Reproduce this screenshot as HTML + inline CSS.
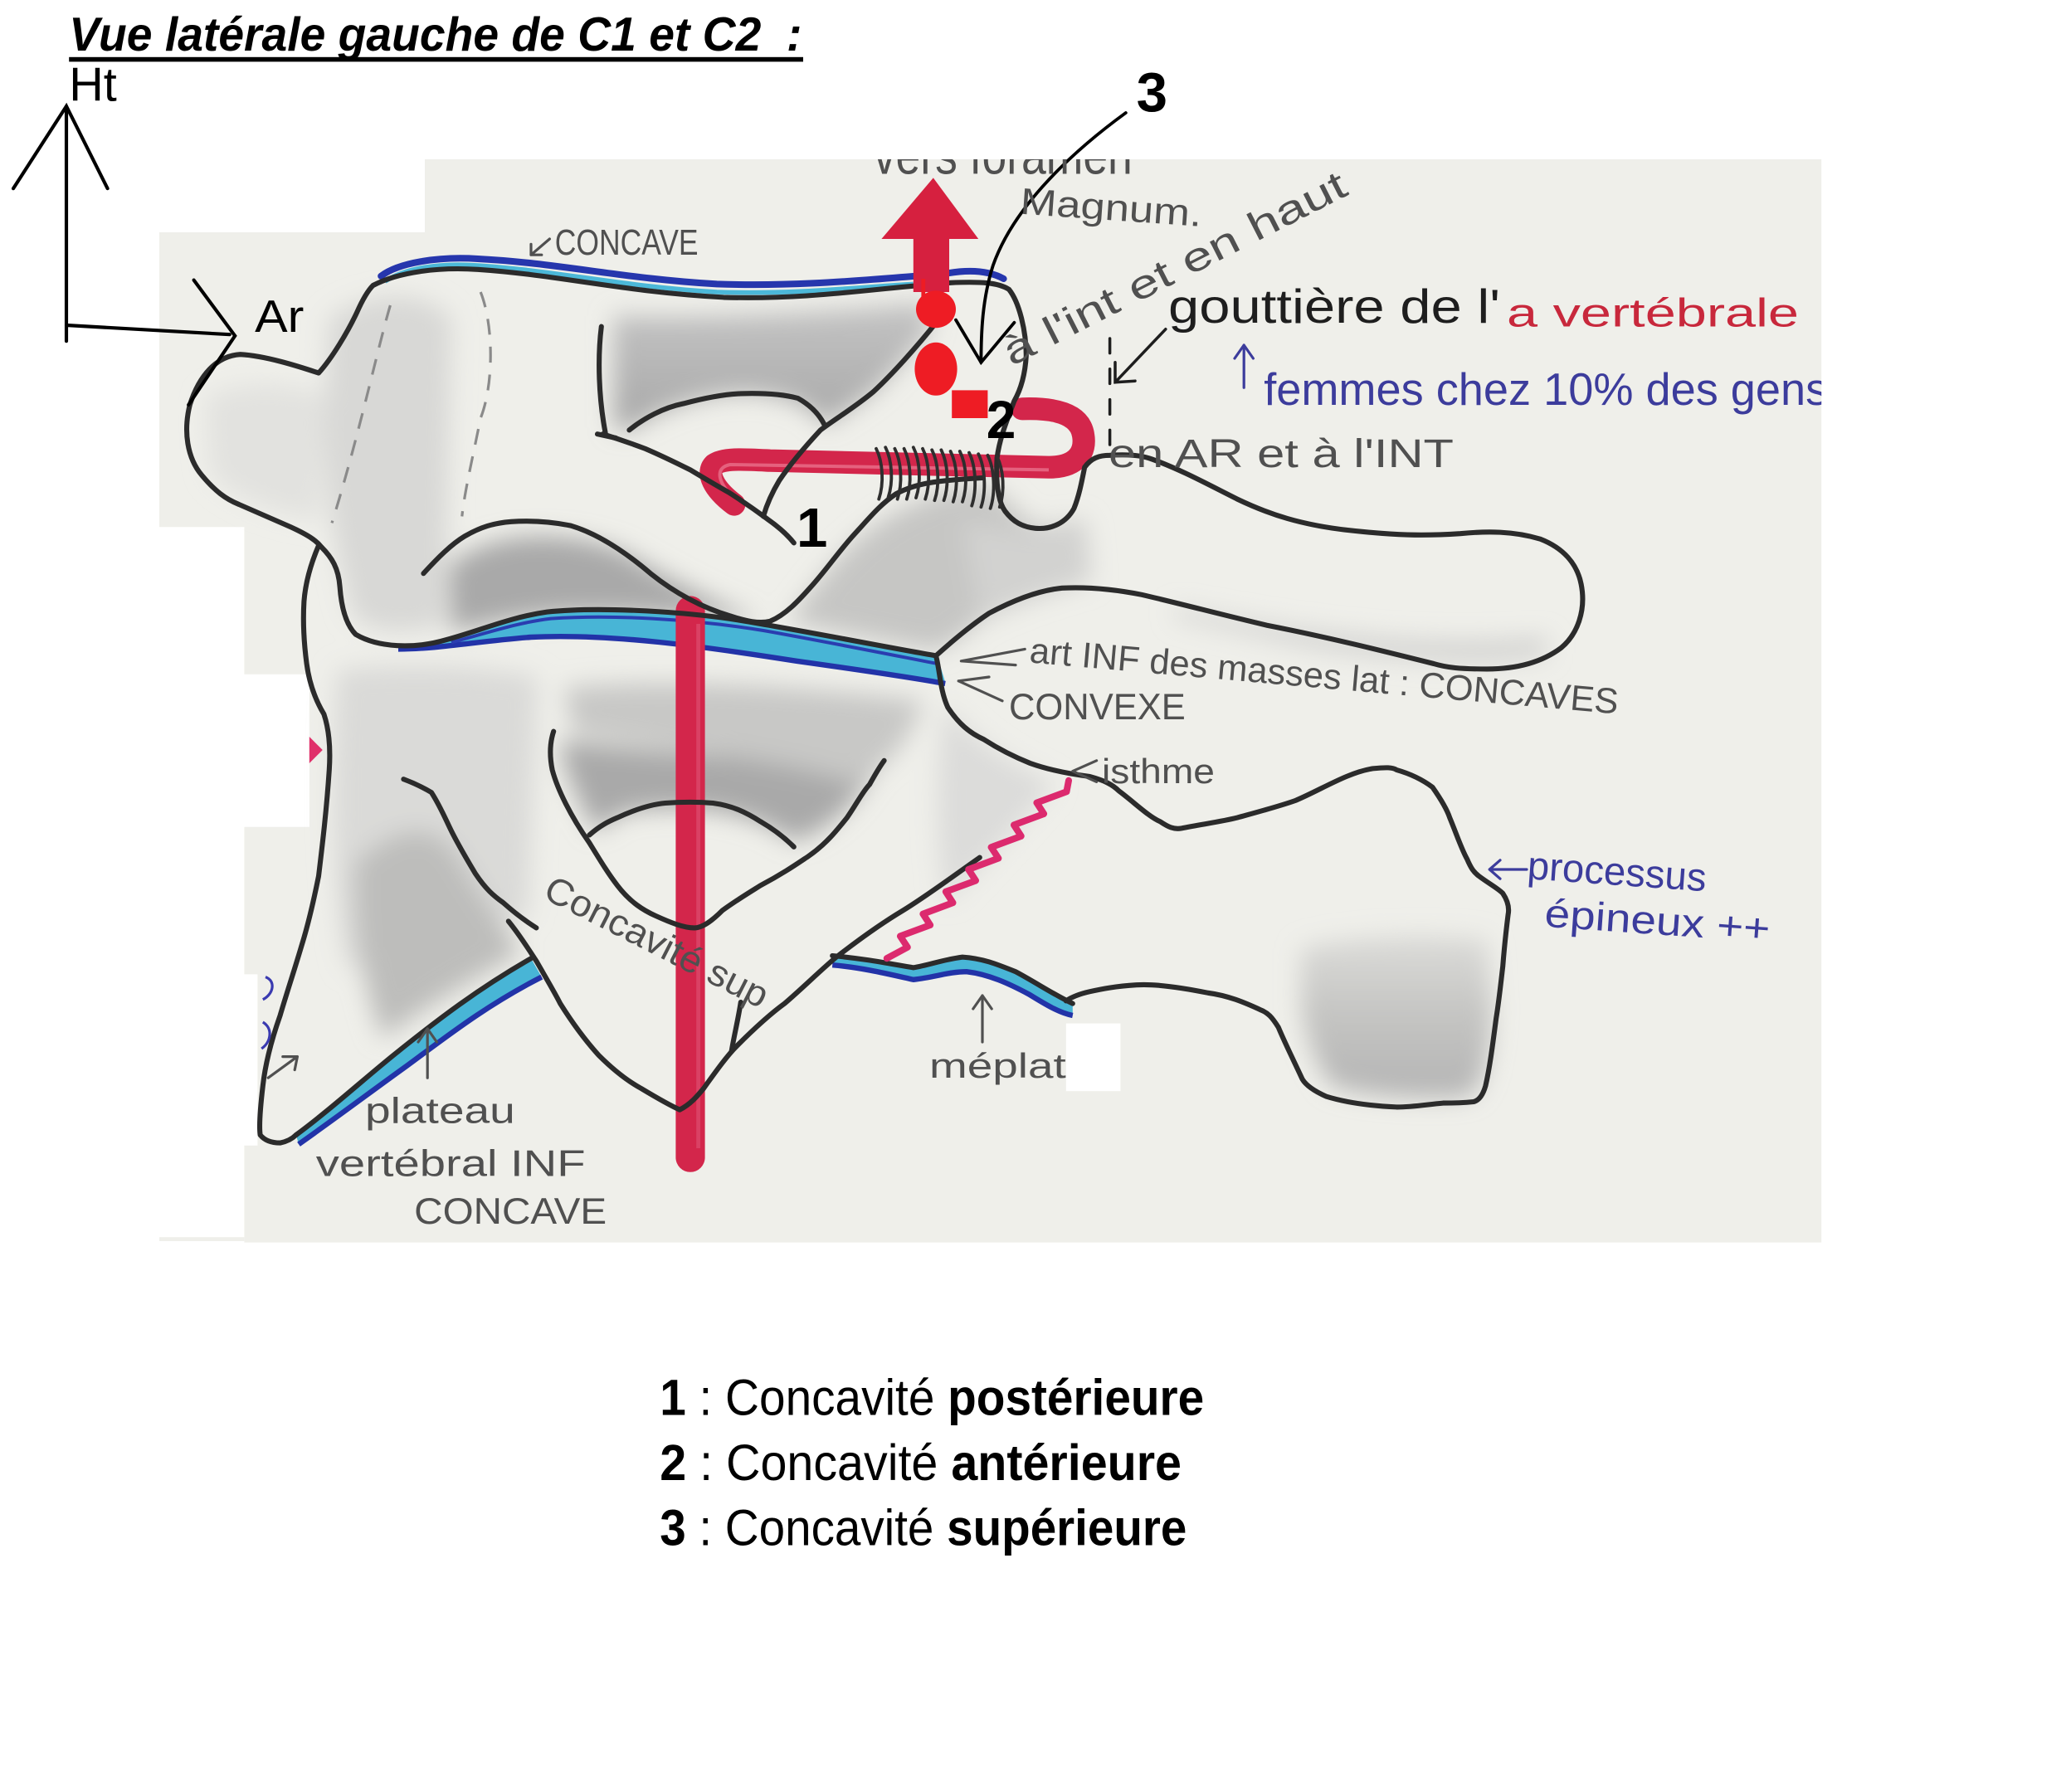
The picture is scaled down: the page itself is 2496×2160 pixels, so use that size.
<!DOCTYPE html>
<html><head><meta charset="utf-8"><style>html,body{margin:0;padding:0;background:#fff}svg{display:block}</style></head><body>
<svg width="2496" height="2160" viewBox="0 0 1560 1350" xmlns="http://www.w3.org/2000/svg" font-family="'Liberation Sans', sans-serif">
<defs>
<filter id="b" x="-40%" y="-40%" width="180%" height="180%"><feGaussianBlur stdDeviation="9"/></filter>
<clipPath id="pc"><rect x="120" y="120" width="1252" height="815"/></clipPath>
<linearGradient id="sp" x1="0" y1="0" x2="0" y2="1"><stop offset="0" stop-color="#dcdcd9"/><stop offset="0.5" stop-color="#c4c4c2"/><stop offset="1" stop-color="#b4b4b4"/></linearGradient>
<linearGradient id="c1" x1="0" y1="0" x2="0" y2="1"><stop offset="0" stop-color="#c4c4c4"/><stop offset="1" stop-color="#a8a8a8"/></linearGradient>
</defs>
<rect width="1560" height="1350" fill="#fff"/>
<!-- paper -->
<path d="M120,175 L320,175 L320,120 L1372,120 L1372,936 L184,936 L184,863 L194,863 L194,734 L184,734 L184,623 L233,623 L233,508 L184,508 L184,397 L120,397 Z" fill="#efefea"/>
<rect x="120" y="932" width="64" height="3" fill="#efefea"/>

<!-- shading -->
<g filter="url(#b)">
<path d="M248,240 C280,218 320,218 340,240 L335,470 C300,480 272,475 264,460 C256,420 248,400 244,330 Z" fill="#d8d8d6"/>
<path d="M155,300 C180,285 230,288 245,300 L240,392 C210,388 172,374 158,355 Z" fill="#e2e2df"/>
<path d="M462,238 C530,240 620,236 696,228 L702,246 C688,264 670,284 656,296 C640,308 630,314 621,320 C612,305 590,297 560,296 C530,297 500,306 474,324 L462,322 Z" fill="url(#c1)"/>
<path d="M338,428 C362,402 420,396 470,416 C520,445 560,464 574,468 C540,466 490,461 430,462 C390,464 362,472 340,476 Z" fill="#a9a9a9"/>
<path d="M614,442 C642,405 674,376 740,364 L760,378 C772,396 792,402 812,390 L820,438 C790,446 762,456 738,468 C722,482 708,490 704,490 C670,484 630,476 594,468 Z" fill="#c6c6c4"/>
<path d="M254,505 C290,500 360,500 405,510 L398,690 C360,700 310,710 262,730 C250,680 248,600 254,505 Z" fill="#dadad8"/>
<path d="M268,650 C295,625 325,615 345,645 C362,675 382,700 392,718 C355,738 320,760 288,782 C272,740 266,695 268,650 Z" fill="#bdbdbb"/>
<path d="M422,558 C480,565 600,574 660,578 C646,602 628,624 598,634 C570,612 520,604 470,612 L448,626 C434,600 423,577 422,558 Z" fill="#a9a9a9"/>
<path d="M425,518 C500,510 620,518 695,528 C685,560 668,578 642,590 C600,574 520,566 432,552 Z" fill="#c8c8c6"/>
<path d="M712,530 C735,560 762,575 795,590 C760,630 728,665 712,680 C705,640 704,580 712,530 Z" fill="#dcdcda"/>
<path d="M980,715 C1010,705 1080,702 1120,708 L1124,760 C1122,800 1116,822 1104,826 C1070,828 1030,826 1004,818 C990,802 984,780 980,760 Z" fill="url(#sp)"/>
<path d="M885,458 C960,472 1060,490 1165,480 L1165,494 C1120,502 1060,498 990,488 C940,478 905,470 885,465 Z" fill="#d2d2d0"/>
<path d="M725,392 C760,402 800,402 818,392 L822,438 C790,444 762,454 738,466 Z" fill="#d2d2d0"/>
</g>

<!-- pencil dashed lines -->
<g stroke="#8a8a8a" stroke-width="2" fill="none" stroke-dasharray="12 9">
<path d="M294,230 C285,260 270,330 250,394"/>
<path d="M362,220 C372,245 372,290 362,315 C356,345 350,370 348,389"/>
</g>

<!-- blue bands -->
<path d="M287,208 C300,198 330,193 360,195 C420,198 470,210 540,214 C600,216 650,211 690,208" stroke="#2636ad" stroke-width="5" fill="none" stroke-linecap="round"/>
<path d="M290,212 C305,202 330,198 360,200 C420,204 470,216 540,220 C600,222 650,216 688,214" stroke="#4cb8d8" stroke-width="3.5" fill="none"/>
<path d="M713,206 C730,203 745,204 756,210" stroke="#2636ad" stroke-width="5" fill="none" stroke-linecap="round"/>

<path d="M336,482 C362,475 384,465 412,461 C450,457 520,460 573,470 C620,478 670,488 706,494 L712,514 C690,510 650,504 600,497 C530,486 460,476 400,479 C360,482 330,488 300,488 Z" fill="#48b5d6"/>
<path d="M300,489 C330,489 360,483 400,480 C460,477 530,487 600,498 C650,505 690,511 712,515" stroke="#2233a8" stroke-width="4" fill="none"/>
<path d="M340,484 C370,476 390,469 415,466 C460,463 520,466 575,475 C620,483 670,493 706,500" stroke="#2a3db0" stroke-width="2.5" fill="none"/>

<path d="M223,855 C250,835 275,812 300,792 C330,768 360,745 400,722 L408,736 C365,758 335,782 305,804 C280,822 252,843 225,862 Z" fill="#48b5d6"/>
<path d="M225,862 C252,843 280,822 305,804 C335,782 365,758 408,736" stroke="#2233a8" stroke-width="4" fill="none"/>

<path d="M627,720 C650,722 670,726 688,729 C700,727 710,723 725,721 C740,722 750,726 765,732 C780,740 795,750 808,756 L808,764 C798,762 788,756 775,748 C760,740 745,733 728,731 C715,731 705,735 688,737 C670,733 650,728 627,726 Z" fill="#48b5d6"/>
<path d="M627,727 C650,729 670,734 688,738 C705,736 715,732 728,732 C745,734 760,741 775,749 C788,757 798,763 808,765" stroke="#2233a8" stroke-width="4" fill="none"/>

<!-- red artery -->
<line x1="520" y1="460" x2="520" y2="872" stroke="#d3264b" stroke-width="22" stroke-linecap="round"/>
<line x1="526" y1="470" x2="526" y2="865" stroke="#e05475" stroke-width="3" opacity=".6"/>
<path d="M553,380 C537,368 532,356 538,350 C545,345 560,346 580,347 L790,352 C812,352 818,340 816,328 C814,314 800,307 770,308" stroke="#d3264b" stroke-width="17" fill="none" stroke-linecap="round"/>
<path d="M548,370 C540,360 540,352 550,350 L790,354" stroke="#ec7b94" stroke-width="2.5" fill="none" opacity=".7"/>

<!-- outlines -->
<g stroke="#2b2b2b" stroke-width="3.8" fill="none" stroke-linecap="round" stroke-linejoin="round">
<path d="M281,215 C300,205 330,201 360,203 C420,207 470,220 545,224 C610,226 660,217 716,213 C740,212 752,213 760,218 C768,228 773,250 773,268 C772,285 768,295 764,302 C758,318 753,330 751,345 C750,365 752,378 757,385 C763,393 770,397 780,398 C792,399 803,394 809,383 C813,373 815,362 817,352 C822,345 828,343 836,343 C850,342 860,343 868,346 C890,354 910,365 932,376 C955,387 980,396 1021,400 C1050,403 1070,404 1100,402 C1120,400 1140,400 1160,406 C1178,413 1188,425 1191,440 C1195,460 1188,478 1176,488 C1160,500 1140,504 1120,504 C1100,504 1090,503 1080,500 C1040,490 1000,480 954,471 C920,463 890,455 860,448 C840,444 820,442 800,443 C780,445 760,454 745,462 C730,472 715,485 705,494 C670,488 620,478 573,470 C520,460 450,457 412,461 C384,465 362,475 336,482 C312,489 285,488 268,478 C260,470 257,456 256,442 C255,428 250,420 242,412 C238,407 232,403 219,397 L180,380 C170,376 162,370 152,358 C141,345 138,325 143,305 C150,283 163,268 181,267 C200,268 225,276 240,281 C250,270 262,250 269,235 C273,226 277,219 281,215 Z"/>
<path d="M705,494 C708,505 708,520 714,533 C722,545 730,552 741,557 C755,566 766,571 776,575 C790,580 805,583 821,585 C832,588 838,591 843,596 C855,605 865,615 874,619 C880,623 884,625 890,624 C905,621 920,619 932,616 C950,611 965,607 976,603 C995,595 1015,582 1034,579 C1044,578 1049,578 1052,580 C1066,584 1075,590 1079,593 C1086,603 1090,610 1092,616 C1097,628 1101,640 1105,647 C1108,654 1110,657 1114,660 C1122,666 1128,669 1132,673 C1136,679 1137,684 1136,689 C1134,705 1133,715 1132,728 C1130,745 1129,755 1127,767 C1124,790 1122,805 1119,818 C1117,825 1114,829 1110,830 C1100,831 1095,831 1087,831 C1075,832 1065,834 1052,834 C1030,833 1012,830 999,826 C990,822 984,818 981,813 C975,800 968,786 963,774 C958,766 955,763 950,761 C937,755 925,750 910,748 C890,744 870,741 856,742 C840,743 830,745 821,747 C812,749 806,752 803,754"/>
<path d="M627,720 C650,722 670,726 688,729 C700,727 710,723 725,721 C740,722 750,726 765,732 C780,740 795,750 808,756"/>
<path d="M512,836 C520,832 525,826 530,820 C540,806 548,795 555,788 C568,775 580,764 591,756 C605,744 618,731 630,721 C648,707 665,695 680,686 C698,675 718,660 738,646"/>
<path d="M383,694 C392,705 398,715 404,724 C412,738 418,748 422,756 C432,772 442,785 451,795 C462,806 472,814 483,820 C493,826 503,832 512,836"/>
<path d="M558,755 C556,768 553,780 551,792"/>
<path d="M304,587 C312,590 320,594 325,597 C332,608 336,618 340,626 C346,638 352,648 358,658 C366,670 372,675 379,680 C388,688 396,694 404,699"/>
<path d="M417,551 C414,560 414,570 416,580 C420,595 430,615 444,635 C452,648 458,658 465,667 C475,680 485,686 494,690 C505,695 515,699 523,699 C530,699 538,692 544,686 C555,678 565,672 573,667 C590,658 600,651 609,645 C622,636 630,626 638,616 C645,606 650,596 655,591 C660,582 663,577 666,573"/>
<path d="M444,629 C452,622 458,619 465,616 C478,610 490,606 501,605 C515,604 525,604 537,605 C552,607 562,612 573,619 C585,626 592,632 598,638"/>
<path d="M240,411 C234,425 230,440 229,453 C228,470 229,485 231,500 C233,515 238,528 244,538 C248,550 249,565 248,580 C246,610 243,635 240,660 C236,680 232,697 227,713 C222,730 216,748 211,765 C205,782 200,800 198,818 C196,835 195,848 196,855 C200,860 206,861 211,861 C216,860 220,858 223,855"/>
<path d="M223,855 C250,835 275,812 300,792 C330,768 360,745 400,722"/>
<path d="M319,432 C330,420 340,410 350,404 C362,397 372,394 385,393 C400,392 415,393 430,396 C450,402 470,415 490,432 C510,448 530,458 550,464 C562,468 572,470 580,468 C592,463 602,452 610,443 C622,430 632,415 644,402 C655,390 663,380 675,372 C690,364 705,362 740,360"/>
<path d="M453,246 C450,270 451,300 456,326"/>
<path d="M450,327 L464,330"/>
<path d="M454,327 C470,332 478,335 486,338 C500,344 510,349 520,354 C530,360 540,366 549,371 C560,378 570,385 578,391 C588,398 594,404 598,409"/>
<path d="M474,324 C485,315 500,307 515,304 C530,300 545,297 558,296.5 C575,296 590,297 601,300 C610,305 617,312 621,320"/>
<path d="M706,242 C690,262 672,282 658,295 C645,306 630,315 618,324 C605,338 595,350 587,362 C581,372 577,382 575,389"/>
</g>

<!-- coils -->
<g stroke="#2e2e2e" stroke-width="2.4" fill="none" stroke-linecap="round">
<path d="M660,338 c5,10 6,26 2,38"/><path d="M667,337 c5,10 6,26 2,38"/><path d="M674,338 c5,10 6,26 2,38"/><path d="M681,338 c5,10 6,26 2,38"/><path d="M688,337 c5,10 6,26 2,38"/><path d="M695,338 c5,10 6,26 2,38"/><path d="M702,339 c5,10 6,26 2,38"/><path d="M709,339 c5,10 6,26 2,38"/><path d="M716,340 c5,10 6,26 2,38"/><path d="M723,340 c5,10 6,26 2,38"/><path d="M730,341 c5,10 6,28 2,40"/><path d="M737,342 c5,10 6,28 2,40"/><path d="M744,343 c5,10 6,28 2,40"/><path d="M751,344 c5,10 6,26 2,38"/>
</g>

<!-- red arrow (vers foramen magnum) -->
<rect x="688" y="172" width="27" height="48" fill="#d6203f"/>
<polygon points="664,180 737,180 703,134" fill="#d6203f"/>
<ellipse cx="705" cy="233" rx="15" ry="14" fill="#ee1c24"/>
<ellipse cx="705" cy="278" rx="16" ry="20" fill="#ee1c24"/>
<rect x="717" y="294" width="27" height="21" fill="#ee1c24"/>
<rect x="694" y="210" width="3" height="16" fill="#ee1c24"/>

<!-- pink zigzag -->
<polyline points="805,588 803.4,596.4 780.9,604.75 786.3,613.1 763.75,621.5 769.2,629.9 746.6,638.25 752.1,646.6 729.5,655 735,663.4 712.4,671.75 717.8,680.1 695.25,688.5 700.7,696.9 678.1,705.25 683.6,713.6 668,722" fill="none" stroke="#dc2a6e" stroke-width="5" stroke-linejoin="round" stroke-linecap="round"/>
<polygon points="233,555 243,565 233,575" fill="#e0306a"/>
<path d="M200,736 C208,739 206,749 198,753 M198,770 C206,775 204,785 197,790" stroke="#3a3ab0" stroke-width="2" fill="none"/>

<!-- axes -->
<g stroke="#000" stroke-width="2.6" fill="none" stroke-linecap="round">
<line x1="50" y1="82" x2="50" y2="257"/>
<polyline points="10,142 50,80 81,142"/>
<line x1="50" y1="245" x2="173" y2="252"/>
<polyline points="146,211 177,253 142,305"/>
</g>

<!-- callout 3 -->
<g stroke="#000" stroke-width="2.4" fill="none" stroke-linecap="round">
<path d="M848,85 C800,120 762,160 748,200 C740,225 739,250 739,273"/>
<polyline points="720,241 739,273 764,243"/>
</g>

<!-- title -->
<text x="52" y="38" font-size="36" font-weight="bold" font-style="italic" textLength="552" lengthAdjust="spacingAndGlyphs" fill="#000">Vue latérale gauche de C1 et C2&#160; :</text>
<rect x="52" y="43" width="553" height="3.5" fill="#000"/>
<text x="52" y="76" font-size="36" textLength="36" lengthAdjust="spacingAndGlyphs" fill="#000">Ht</text>
<text x="192" y="250" font-size="34" textLength="37" lengthAdjust="spacingAndGlyphs" fill="#000">Ar</text>

<!-- numbers -->
<text x="856" y="84" font-size="42" font-weight="bold" fill="#000">3</text>
<text x="600" y="412" font-size="42" font-weight="bold" fill="#000">1</text>
<text x="743" y="330" font-size="40" font-weight="bold" fill="#000">2</text>

<!-- handwritten labels -->
<g fill="#505050" font-family="'Liberation Sans', sans-serif">
<g clip-path="url(#pc)"><text x="658" y="131" font-size="40" textLength="195" lengthAdjust="spacingAndGlyphs">vers foramen</text></g>
<text x="768" y="161" font-size="28" textLength="137" lengthAdjust="spacingAndGlyphs" transform="rotate(4 768 161)">Magnum.</text>
<text x="418" y="192" font-size="27" textLength="108" lengthAdjust="spacingAndGlyphs">CONCAVE</text>
<text x="762" y="276" font-size="30" textLength="286" lengthAdjust="spacingAndGlyphs" transform="rotate(-27 762 276)">à l'int et en haut</text>
<text x="835" y="352" font-size="30" textLength="260" lengthAdjust="spacingAndGlyphs">en AR et à l'INT</text>
<text x="775" y="499" font-size="27" textLength="445" lengthAdjust="spacingAndGlyphs" transform="rotate(5 775 499)">art INF des masses lat : CONCAVES</text>
<text x="760" y="542" font-size="28" textLength="133" lengthAdjust="spacingAndGlyphs">CONVEXE</text>
<text x="830" y="590" font-size="26" textLength="85" lengthAdjust="spacingAndGlyphs">isthme</text>
<text x="408" y="676" font-size="28" textLength="185" lengthAdjust="spacingAndGlyphs" transform="rotate(27 408 676)">Concavité sup</text>
<text x="700" y="812" font-size="26" textLength="103" lengthAdjust="spacingAndGlyphs">méplat</text>
<text x="275" y="846" font-size="27" textLength="113" lengthAdjust="spacingAndGlyphs">plateau</text>
<text x="238" y="886" font-size="28" textLength="203" lengthAdjust="spacingAndGlyphs">vertébral INF</text>
<text x="312" y="922" font-size="28" textLength="145" lengthAdjust="spacingAndGlyphs">CONCAVE</text>
</g>
<text x="880" y="243" font-size="36" textLength="250" lengthAdjust="spacingAndGlyphs" fill="#1e1e1e">gouttière de l'</text>
<text x="1135" y="246" font-size="30" textLength="220" lengthAdjust="spacingAndGlyphs" fill="#c8283c">a vertébrale</text>
<g clip-path="url(#pc)"><text x="952" y="305" font-size="34" textLength="425" lengthAdjust="spacingAndGlyphs" fill="#3c3c9c">femmes chez 10% des gens</text></g>
<text x="1150" y="662" font-size="30" textLength="135" lengthAdjust="spacingAndGlyphs" fill="#3c3c9c" transform="rotate(4 1150 662)">processus</text>
<text x="1163" y="698" font-size="30" textLength="170" lengthAdjust="spacingAndGlyphs" fill="#3c3c9c" transform="rotate(4 1163 698)">épineux ++</text>

<!-- small arrows -->
<g stroke="#505050" stroke-width="2" fill="none" stroke-linecap="round" stroke-linejoin="round">
<path d="M414,180 L400,192 M400,184 L400,192 L408,192"/>
<path d="M772,489 L724,498 M765,501 L724,498"/>
<path d="M755,528 L722,513 M745,510 L722,513"/>
<path d="M826,573 L808,581 L826,589"/>
<path d="M740,785 L740,750 M733,760 L740,750 L747,760"/>
<path d="M322,812 L322,775 M315,785 L322,775 L329,785"/>
<path d="M202,812 L224,796 M213,796 L224,796 L222,806"/>
</g>
<g stroke="#3c3c9c" stroke-width="2" fill="none" stroke-linecap="round" stroke-linejoin="round">
<path d="M937,292 L937,260 M930,270 L937,260 L944,270"/>
<path d="M1150,655 L1122,655 M1130,648 L1122,655 L1130,662"/>
</g>
<g stroke="#1e1e1e" stroke-width="2.2" fill="none" stroke-linecap="round">
<path d="M878,248 L840,288 M840,273 L840,288 L855,287"/>
<path d="M836,255 L836,345" stroke-dasharray="11 12"/>
</g>

<!-- white patch -->
<rect x="803" y="771" width="41" height="51" fill="#fff"/>

<!-- legend -->
<g font-size="38" fill="#000">
<text x="497" y="1066" textLength="410" lengthAdjust="spacingAndGlyphs"><tspan font-weight="bold">1</tspan> : Concavité <tspan font-weight="bold">postérieure</tspan></text>
<text x="497" y="1115" textLength="393" lengthAdjust="spacingAndGlyphs"><tspan font-weight="bold">2</tspan> : Concavité <tspan font-weight="bold">antérieure</tspan></text>
<text x="497" y="1164" textLength="397" lengthAdjust="spacingAndGlyphs"><tspan font-weight="bold">3</tspan> : Concavité <tspan font-weight="bold">supérieure</tspan></text>
</g>
</svg>
</body></html>
